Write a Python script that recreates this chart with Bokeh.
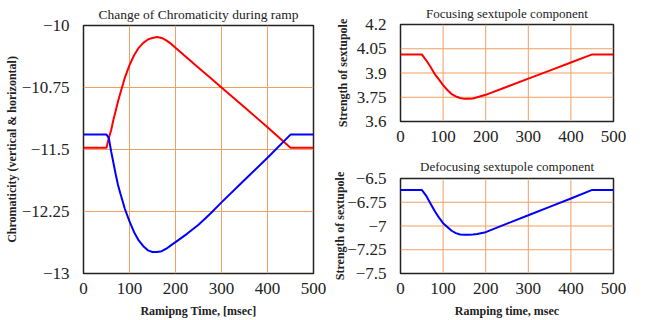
from bokeh.plotting import figure
from bokeh.layouts import row, column
from bokeh.models import FixedTicker, Range1d, CustomJSTickFormatter, Span
from bokeh.embed import file_html
from bokeh.resources import INLINE

# ---- data ----
time_ms = [0, 50, 55, 60, 65, 70, 75, 80, 90, 100, 110, 120, 130, 140, 150,
           160, 170, 180, 190, 200, 225, 250, 275, 300, 350, 400, 450, 500]
chrom_red = [-11.48, -11.48, -11.36, -11.27, -11.14, -11.03, -10.92, -10.82, -10.63,
             -10.48, -10.36, -10.27, -10.21, -10.17, -10.15, -10.14, -10.15, -10.18,
             -10.22, -10.27, -10.39, -10.51, -10.63, -10.75, -10.99, -11.23, -11.48,
             -11.48]
chrom_blue = [-11.32, -11.32, -11.36, -11.52, -11.66, -11.80, -11.93, -12.03, -12.22,
              -12.37, -12.50, -12.60, -12.67, -12.72, -12.74, -12.74, -12.73, -12.70,
              -12.66, -12.62, -12.52, -12.41, -12.28, -12.14, -11.87, -11.60, -11.32,
              -11.32]

time_sx = [0, 50, 60, 70, 80, 90, 100, 110, 120, 130, 140, 150, 160, 170, 180,
           200, 250, 300, 350, 400, 450, 500]
focusing = [4.015, 4.015, 3.98, 3.94, 3.895, 3.86, 3.825, 3.795, 3.77, 3.755, 3.745,
            3.74, 3.74, 3.742, 3.75, 3.765, 3.815, 3.865, 3.915, 3.965, 4.015, 4.015]
defocusing = [-6.62, -6.62, -6.68, -6.76, -6.84, -6.91, -6.97, -7.01, -7.05, -7.075,
              -7.09, -7.093, -7.093, -7.09, -7.085, -7.065, -6.975, -6.887, -6.798,
              -6.71, -6.62, -6.62]

x_ticks = [0, 100, 200, 300, 400, 500]
chrom_ticks = [-13, -12.25, -11.5, -10.75, -10]
foc_ticks = [3.6, 3.75, 3.9, 4.05, 4.2]
defoc_ticks = [-7.5, -7.25, -7, -6.75, -6.5]

FONT = "Liberation Serif"
GRID = "#F0A060"
fmt_code = "return tick.toString().replace('-', '\\u2212')"


def style(p, yticks, xlabel, ylabel, ylabel_standoff, title_size, title_standoff):
    p.title.text_font = FONT
    p.title.text_font_size = title_size
    p.title.text_font_style = "normal"
    p.title.text_color = "#222222"
    p.title.align = "center"
    p.title.standoff = title_standoff
    p.outline_line_color = "#222222"
    p.outline_line_width = 1.5
    p.background_fill_color = "white"
    p.border_fill_color = "white"
    p.xaxis.ticker = FixedTicker(ticks=x_ticks)
    p.yaxis.ticker = FixedTicker(ticks=yticks)
    for ax in (p.xaxis[0], p.yaxis[0]):
        ax.formatter = CustomJSTickFormatter(code=fmt_code)
        ax.axis_line_color = None
        ax.major_tick_line_color = None
        ax.minor_tick_line_color = None
        ax.major_label_text_font = FONT
        ax.major_label_text_font_size = "17px"
        ax.major_label_text_font_style = "normal"
        ax.major_label_text_color = "#222222"
        ax.axis_label_text_font = FONT
        ax.axis_label_text_font_size = "12px"
        ax.axis_label_text_font_style = "bold"
        ax.axis_label_text_color = "#222222"
    p.xaxis.major_label_standoff = 3
    p.yaxis.major_label_standoff = 8
    p.xaxis.axis_label_standoff = 7
    p.yaxis.axis_label_standoff = ylabel_standoff
    if xlabel:
        p.xaxis.axis_label = xlabel
    p.yaxis.axis_label = ylabel
    # grid lines drawn as spans at the tick positions
    p.xgrid.visible = False
    p.ygrid.visible = False
    for t in x_ticks[1:-1]:
        p.add_layout(Span(location=t, dimension="height", line_color=GRID,
                          line_width=1, level="underlay"))
    for t in yticks[1:-1]:
        p.add_layout(Span(location=t, dimension="width", line_color=GRID,
                          line_width=1, level="underlay"))


p1 = figure(width=330, height=320, x_range=Range1d(0, 500), y_range=Range1d(-13, -10),
            output_backend="svg", toolbar_location=None,
            min_border_left=83, min_border_right=17, min_border_top=25, min_border_bottom=47,
            title="Change of Chromaticity during ramp")
style(p1, chrom_ticks, "Ramipng Time, [msec]", "Chromaticity (vertical & horizontal)",
      0, "13.5px", 7)
p1.line(time_ms, chrom_red, line_color="#FF0000", line_width=2)
p1.line(time_ms, chrom_blue, line_color="#0000FF", line_width=2)

p2 = figure(width=316, height=150, x_range=Range1d(0, 500), y_range=Range1d(3.6, 4.2),
            output_backend="svg", toolbar_location=None,
            min_border_left=64, min_border_right=33, min_border_top=23, min_border_bottom=29,
            title="Focusing sextupole component")
style(p2, foc_ticks, None, "Strength of sextupole", 4, "13px", 7)
p2.line(time_sx, focusing, line_color="#FF0000", line_width=2)

p3 = figure(width=316, height=170, x_range=Range1d(0, 500), y_range=Range1d(-7.5, -6.5),
            output_backend="svg", toolbar_location=None,
            min_border_left=68, min_border_right=33, min_border_top=28, min_border_bottom=46,
            title="Defocusing sextupole component")
style(p3, defoc_ticks, "Ramping time, msec", "Strength of sextupole", -3, "13px", 9)
p3.line(time_sx, defocusing, line_color="#0000FF", line_width=2)

layout = row(p1, column(p2, p3, spacing=0), spacing=0)

open("out.html", "w").write(file_html(layout, INLINE))
